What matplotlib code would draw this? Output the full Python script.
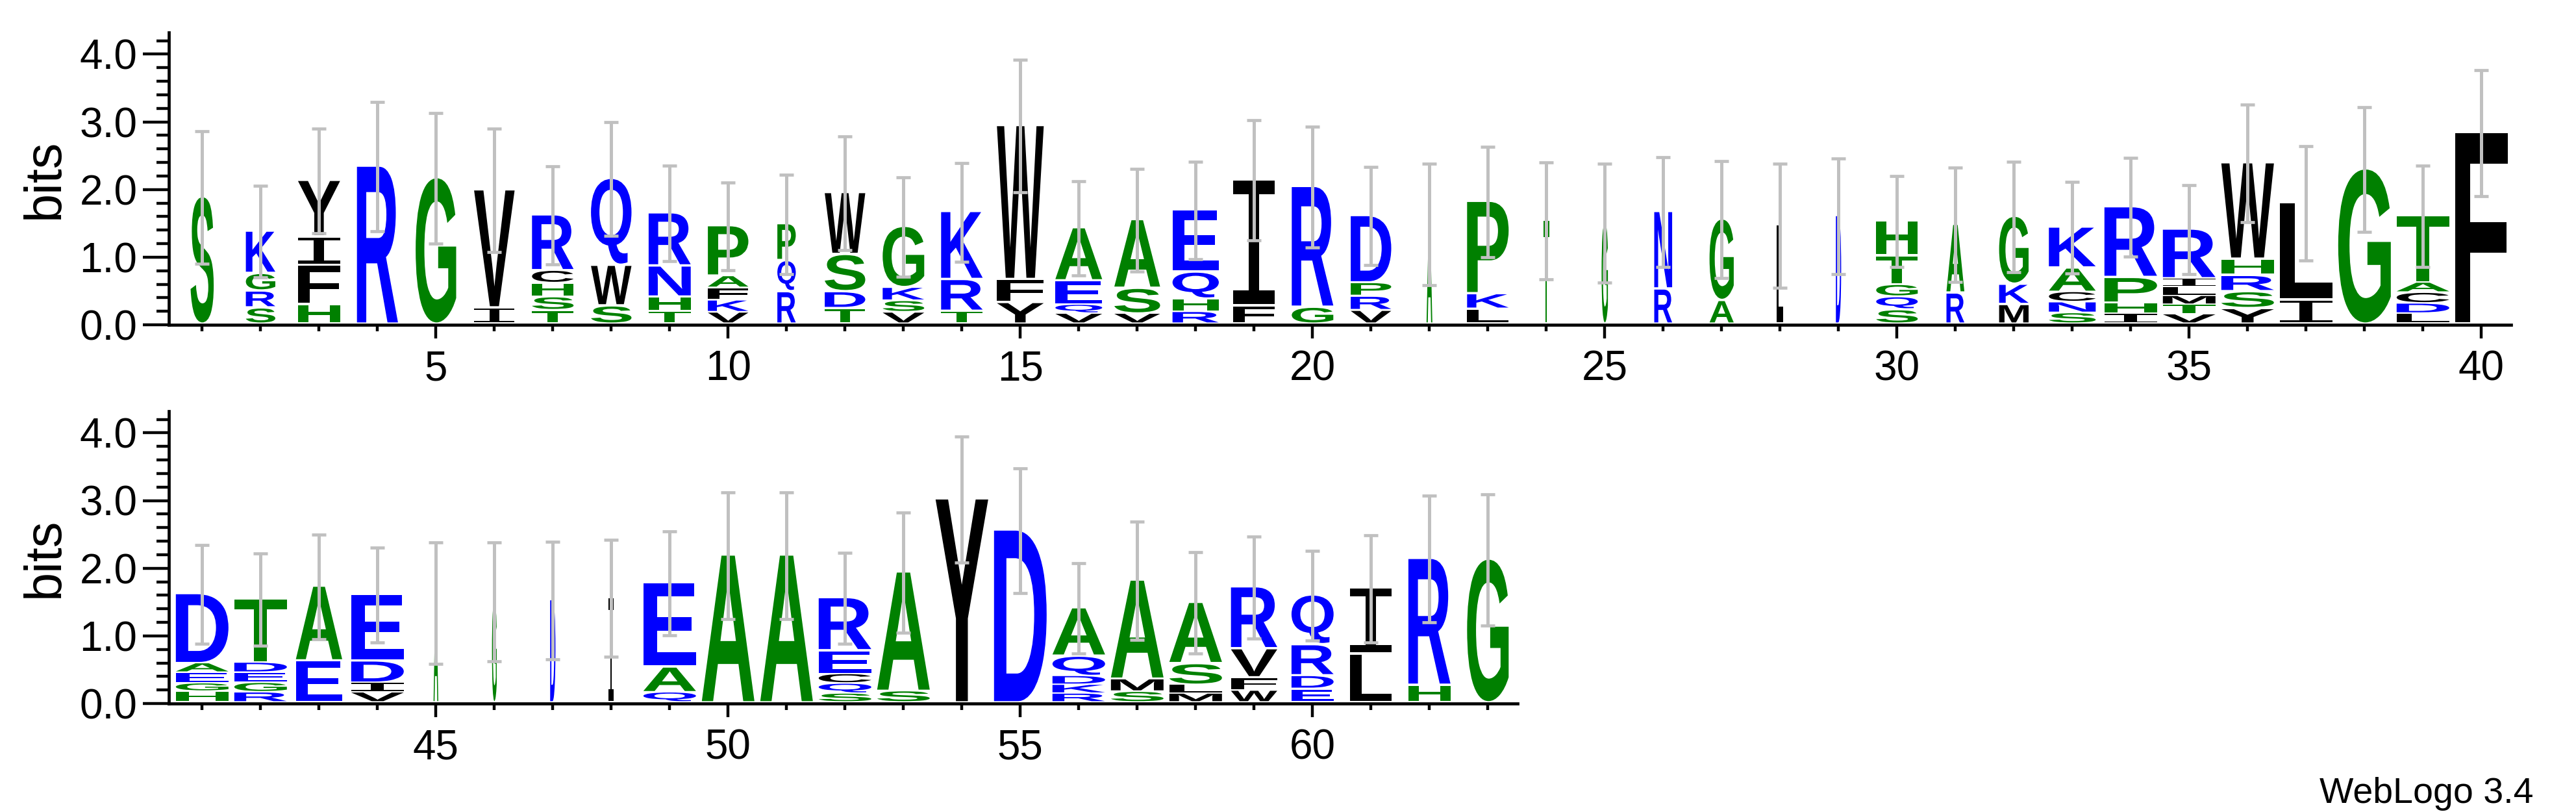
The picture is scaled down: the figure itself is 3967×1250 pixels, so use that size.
import matplotlib
matplotlib.use('Agg')
import matplotlib.pyplot as plt
from matplotlib.textpath import TextPath
from matplotlib.font_manager import FontProperties
from matplotlib.patches import PathPatch
from matplotlib.transforms import Affine2D

plt.rcParams['font.family'] = ['Liberation Sans', 'DejaVu Sans']

# ---------------- data ----------------
positions = list(range(1, 64))

stack_letters = [
    "S", "SRGK", "HFIY", "R", "G", "IV", "TSHCR", "SWQ", "THNR", "VKFAP",
    "RQP", "TDSW", "VSKG", "TRK", "YFW", "VQEA", "VSA", "RHQE", "FI", "GR",
    "VRPD", "A", "LKP", "T", "G", "RN", "AG", "L", "D", "SQGTH",
    "RA", "MKG", "SNCAK", "IHPR", "VTMLIR", "YSRHW", "IL", "G", "LDCAT", "F",
    "HGEAD", "RGEDT", "EA", "VIDE", "A", "G", "D", "I", "QAE", "A",
    "A", "SQCER", "SA", "Y", "D", "RKDQA", "SMA", "MLSA", "WFVR", "EDRQ",
    "LI", "HR", "G",
]

stack_heights = [
    [1.85], [.24, .25, .26, .59], [.29, .58, .42, .80], [2.30], [2.13],
    [.24, 1.71], [.20, .20, .20, .19, .79], [.27, .60, 1.25], [.19, .21, .46, .75],
    [.17, .18, .18, .18, .71],
    [.48, .46, .51], [.23, .25, .55, .88], [.17, .17, .20, .87], [.19, .47, .97],
    [.32, .34, 2.24], [.15, .13, .36, .75], [.15, .38, .98], [.18, .19, .40, .88],
    [.27, 1.83], [.25, 1.75],
    [.20, .21, .20, .96], [1.45], [.22, .23, 1.33], [1.50], [1.47], [.52, 1.11],
    [.35, 1.17], [1.43], [1.57], [.21, .19, .18, .43, .48],
    [.46, .98], [.29, .30, .97], [.16, .16, .15, .36, .57], [.15, .16, .38, 1.01],
    [.14, .14, .13, .13, .13, .70], [.23, .25, .24, .24, 1.39], [.36, 1.40], [2.26],
    [.15, .15, .16, .15, .96], [2.80],
    [.16, .12, .16, .14, 1.00], [.15, .14, .15, .15, .91], [.62, 1.07],
    [.15, .14, .33, .95], [1.45], [1.47], [1.49], [1.52], [.15, .38, 1.21], [2.15],
    [2.15], [.13, .15, .14, .35, .75], [.17, 1.73], [2.98], [2.52],
    [.13, .13, .13, .30, .68], [.16, .19, 1.43], [.13, .13, .32, .87],
    [.18, .19, .43, .88], [.20, .20, .46, .70],
    [.72, .94], [.26, 1.84], [2.09],
]

stack_width_frac = [
    .44, .56, .80, .78, .77, .77, .79, .77, .80, .77,
    .35, .77, .79, .79, .89, .89, .87, .88, .79, .79,
    .77, .11, .79, .11, .12, .34, .46, .12, .10, .79,
    .34, .56, .89, 1.0, 1.0, 1.0, 1.0, 1.0, 1.0, 1.0,
    1.0, 1.0, .88, 1.0, .09, .09, .10, .10, 1.0, 1.0,
    1.0, 1.0, 1.0, 1.0, 1.0, 1.0, 1.0, 1.0, .88, .80,
    .79, .80, .79,
]

error_half = [
    .98, .675, .77, .955, .965, .91, .725, .84, .705, .65,
    .735, .84, .73, .73, .98, .70, .76, .72, .89, .89,
    .725, .895, .82, .865, .88, .81, .865, .92, .855, .675,
    .845, .815, .675, .73, .66, .865, .845, .925, .75, .93,
    .73, .685, .77, .70, .90, .88, .87, .86, .77, .935,
    .935, .675, .89, .935, .92, .665, .87, .75, .755, .665,
    .79, .935, .97,
]

row1_major = [5, 10, 15, 20, 25, 30, 35, 40]
row2_major = [45, 50, 55, 60]
y_major = [0.0, 1.0, 2.0, 3.0, 4.0]

GREEN = '#008000'
BLUE = '#0000ff'
BLACK = '#000000'
color_map = {}
for ch in "SGHTPA":
    color_map[ch] = GREEN
for ch in "KRQNED":
    color_map[ch] = BLUE
for ch in "YFCWVILM":
    color_map[ch] = BLACK

# ---------------- figure ----------------
W, H = 3967, 1250
fig = plt.figure(figsize=(W / 100, H / 100), dpi=100)

px_per_pos = 90.0
x0_off = 0.43
ax_left = 260
ax1 = fig.add_axes([ax_left / W, 750 / H, (40.51 - x0_off) * px_per_pos / W, 450 / H])
ax2 = fig.add_axes([ax_left / W, 167 / H, (63.51 - (40 + x0_off)) * px_per_pos / W, 450 / H])

fp_main = FontProperties(family='Liberation Sans', weight='bold')
fp_I = FontProperties(family='DejaVu Sans Mono', weight='normal')

glyph_cache = {}


def glyph(ch):
    if ch not in glyph_cache:
        fp = fp_I if ch == 'I' else fp_main
        p = TextPath((0, 0), ch, size=1, prop=fp)
        glyph_cache[ch] = (p, p.get_extents())
    return glyph_cache[ch]


FULL_W = 0.9
BASE = 0.035


def draw_rows(ax, idx_range, xlim, majors):
    xs, tops, errs = [], [], []
    for i in idx_range:
        pos = positions[i]
        w = FULL_W * stack_width_frac[i]
        y = BASE
        letters = stack_letters[i]
        hs = stack_heights[i]
        for k, (ch, h) in enumerate(zip(letters, hs)):
            gap = min(0.035, 0.15 * h) if k < len(letters) - 1 else 0.0
            gh = h - gap
            p, bb = glyph(ch)
            tr = (Affine2D().translate(-bb.x0, -bb.y0)
                  .scale(w / bb.width, gh / bb.height)
                  .translate(pos - w / 2, y))
            patch = PathPatch(tr.transform_path(p), facecolor=color_map[ch],
                              edgecolor='none', lw=0, zorder=3)
            ax.add_patch(patch)
            y += h
        xs.append(pos)
        tops.append(y)
        errs.append(error_half[i])
    ax.errorbar(xs, tops, yerr=errs, fmt='none', ecolor='#c0c0c0',
                elinewidth=3.6, capsize=8, capthick=3.4, zorder=5)

    ax.set_xlim(*xlim)
    ax.set_ylim(0, 4.32)
    for s in ['top', 'right']:
        ax.spines[s].set_visible(False)
    for s in ['left', 'bottom']:
        ax.spines[s].set_linewidth(3.4)
    ax.set_xticks(majors)
    ax.set_xticklabels([str(m) for m in majors])
    ax.set_xticks([positions[i] for i in idx_range], minor=True)
    ax.set_yticks(y_major)
    ax.set_yticklabels(['%.1f' % v for v in y_major])
    ax.set_yticks([0.2 * k for k in range(22)], minor=True)
    ax.tick_params(axis='x', which='major', length=15, width=3.2, pad=13, labelsize=46)
    ax.tick_params(axis='x', which='minor', length=7.5, width=3.2)
    ax.tick_params(axis='y', which='major', length=29, width=3.2, pad=6, labelsize=46)
    ax.tick_params(axis='y', which='minor', length=14, width=3.2)


draw_rows(ax1, range(0, 40), (x0_off, 40.51), row1_major)
draw_rows(ax2, range(40, 63), (40 + x0_off, 63.51), row2_major)

fig.text(69 / W, 1 - 275 / H, 'bits', rotation=90, ha='center', va='center', fontsize=57)
fig.text(69 / W, 1 - 858 / H, 'bits', rotation=90, ha='center', va='center', fontsize=57)
fig.text(3902 / W, (H - 1236) / H, 'WebLogo 3.4', ha='right', va='baseline', fontsize=40)

fig.savefig('out.png', dpi=100)
